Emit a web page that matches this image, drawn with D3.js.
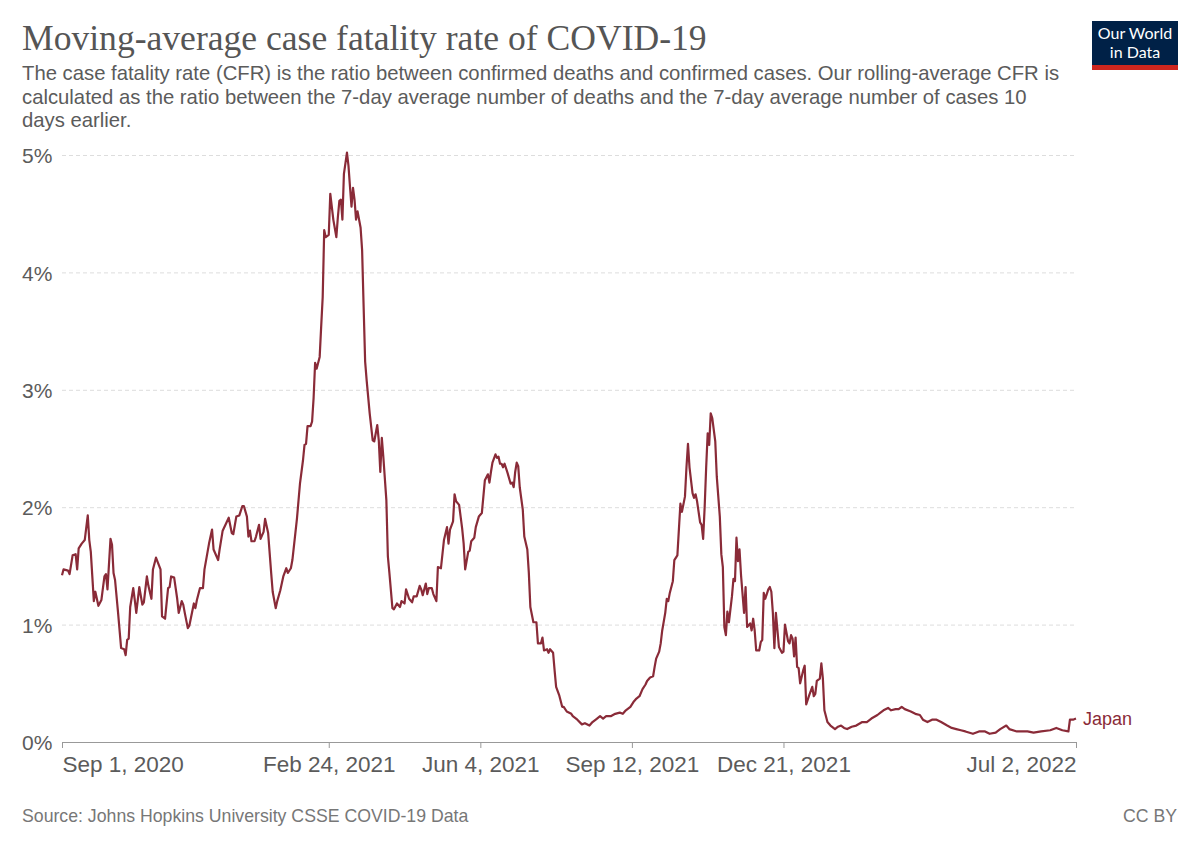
<!DOCTYPE html>
<html>
<head>
<meta charset="utf-8">
<script src="https://cdn.jsdelivr.net/npm/d3@7"></script>
<style>
  body { margin: 0; background: #fff; }
  svg { display: block; }
</style>
</head>
<body>
<svg id="chart" width="1200" height="847"></svg>
<script>
// Japan, rolling CFR (days after 1 Sep 2020, value in %)
const startDate = "2020-09-01";
const endDate = "2022-07-02";

const dayOffset = [
  0, 1, 4, 5, 7, 9, 10, 11, 13, 15, 17, 18, 19, 21, 22, 24, 26, 28, 29, 30,
  32, 33, 34, 35, 37, 39, 41, 42, 43, 44, 45, 47, 48, 49, 51, 53, 54, 56, 57, 59,
  60, 62, 65, 66, 68, 70, 71, 72, 74, 76, 77, 79, 80, 81, 83, 84, 87, 88, 89, 91,
  93, 94, 97, 99, 100, 103, 104, 106, 110, 112, 113, 115, 117, 119, 120, 122, 123, 124, 125, 127,
  128, 130, 131, 133, 134, 136, 138, 139, 141, 142, 144, 146, 148, 149, 151, 152, 155, 157, 159, 160,
  161, 162, 164, 165, 166, 167, 168, 170, 171, 172, 173, 174, 176, 177, 179, 181, 182, 183, 184, 185,
  186, 188, 189, 190, 191, 192, 193, 194, 195, 197, 198, 199, 200, 201, 203, 205, 206, 208, 209, 210,
  211, 212, 214, 215, 216, 218, 219, 221, 223, 224, 226, 227, 229, 231, 232, 234, 236, 237, 238, 240,
  241, 242, 244, 245, 247, 248, 250, 252, 254, 255, 256, 258, 259, 260, 262, 264, 265, 266, 268, 269,
  270, 272, 273, 275, 277, 278, 279, 281, 282, 283, 284, 286, 287, 288, 289, 290, 291, 292, 294, 296,
  297, 298, 299, 300, 301, 302, 304, 305, 307, 308, 309, 311, 313, 314, 316, 317, 318, 320, 321, 322,
  324, 325, 326, 328, 330, 331, 333, 336, 337, 340, 343, 345, 348, 350, 353, 355, 357, 359, 362, 365,
  368, 370, 372, 375, 377, 379, 381, 383, 385, 386, 388, 390, 391, 392, 394, 395, 396, 398, 399, 400,
  401, 403, 404, 406, 407, 408, 409, 411, 412, 413, 414, 416, 417, 418, 419, 421, 422, 423, 424, 425,
  426, 427, 428, 429, 431, 432, 434, 435, 436, 437, 438, 439, 440, 442, 443, 444, 445, 446, 447, 448,
  450, 451, 452, 454, 455, 456, 457, 458, 460, 461, 462, 463, 464, 466, 467, 468, 469, 470, 471, 473,
  475, 476, 477, 479, 480, 481, 482, 483, 484, 485, 486, 487, 489, 490, 491, 493, 495, 496, 497, 498,
  500, 501, 502, 503, 505, 507, 510, 512, 514, 516, 518, 521, 524, 528, 531, 534, 538, 540, 542, 545,
  547, 550, 552, 554, 556, 560, 563, 566, 568, 571, 574, 577, 580, 584, 587, 590, 593, 596, 601, 605,
  609, 612, 616, 619, 623, 625, 630, 637, 641, 646, 652, 656, 660, 664, 665, 667, 669
];

const cfrJapan = [
  1.42, 1.47, 1.46, 1.43, 1.59, 1.60, 1.47, 1.65, 1.69, 1.72, 1.93, 1.72, 1.62, 1.20, 1.28, 1.16, 1.21, 1.41, 1.43, 1.30,
  1.73, 1.68, 1.44, 1.38, 1.10, 0.80, 0.79, 0.74, 0.87, 0.88, 1.15, 1.31, 1.21, 1.10, 1.32, 1.17, 1.19, 1.41, 1.33, 1.22,
  1.47, 1.57, 1.47, 1.07, 1.05, 1.31, 1.32, 1.41, 1.40, 1.22, 1.10, 1.20, 1.17, 1.10, 0.97, 0.99, 1.18, 1.14, 1.21, 1.31,
  1.31, 1.47, 1.69, 1.81, 1.64, 1.55, 1.64, 1.80, 1.91, 1.78, 1.77, 1.92, 1.93, 2.01, 2.01, 1.92, 1.75, 1.80, 1.71, 1.71,
  1.75, 1.85, 1.73, 1.79, 1.90, 1.78, 1.44, 1.28, 1.14, 1.20, 1.29, 1.41, 1.48, 1.44, 1.48, 1.55, 1.90, 2.20, 2.40, 2.53,
  2.54, 2.69, 2.69, 2.73, 2.93, 3.23, 3.18, 3.28, 3.54, 3.79, 4.36, 4.30, 4.32, 4.67, 4.45, 4.30, 4.47, 4.61, 4.62, 4.45,
  4.84, 5.02, 4.91, 4.73, 4.56, 4.72, 4.62, 4.45, 4.52, 4.38, 4.19, 3.71, 3.24, 3.08, 2.80, 2.57, 2.56, 2.70, 2.57, 2.30,
  2.59, 2.43, 2.06, 1.58, 1.44, 1.14, 1.13, 1.18, 1.15, 1.20, 1.18, 1.30, 1.22, 1.19, 1.24, 1.24, 1.33, 1.30, 1.25, 1.35,
  1.26, 1.31, 1.31, 1.26, 1.20, 1.49, 1.48, 1.72, 1.83, 1.69, 1.81, 1.88, 2.11, 2.05, 2.02, 1.82, 1.69, 1.47, 1.62, 1.63,
  1.71, 1.74, 1.83, 1.92, 1.95, 2.09, 2.23, 2.28, 2.21, 2.30, 2.38, 2.45, 2.42, 2.43, 2.37, 2.37, 2.34, 2.37, 2.29, 2.20,
  2.21, 2.17, 2.30, 2.38, 2.35, 2.17, 1.98, 1.75, 1.64, 1.44, 1.15, 1.02, 1.02, 0.84, 0.84, 0.89, 0.78, 0.79, 0.76, 0.79,
  0.76, 0.61, 0.47, 0.40, 0.30, 0.30, 0.26, 0.24, 0.22, 0.19, 0.15, 0.16, 0.14, 0.17, 0.20, 0.22, 0.20, 0.22, 0.22, 0.24,
  0.25, 0.24, 0.27, 0.30, 0.34, 0.37, 0.39, 0.45, 0.49, 0.52, 0.55, 0.56, 0.64, 0.71, 0.77, 0.84, 0.95, 1.10, 1.22, 1.20,
  1.27, 1.37, 1.55, 1.59, 1.81, 2.03, 1.96, 2.09, 2.34, 2.54, 2.34, 2.12, 2.08, 2.11, 2.05, 1.87, 1.85, 1.73, 2.00, 2.34,
  2.63, 2.53, 2.80, 2.76, 2.56, 2.26, 1.92, 1.60, 1.49, 0.98, 0.91, 1.11, 1.02, 1.24, 1.39, 1.37, 1.74, 1.54, 1.64, 1.42,
  1.10, 1.32, 0.98, 1.01, 0.95, 1.05, 0.95, 0.78, 0.78, 0.85, 0.87, 1.27, 1.22, 1.30, 1.32, 1.28, 1.10, 0.80, 1.10, 0.81,
  0.76, 0.77, 1.00, 0.86, 0.84, 0.91, 0.88, 0.73, 0.89, 0.64, 0.63, 0.50, 0.61, 0.65, 0.32, 0.40, 0.47, 0.39, 0.41, 0.52,
  0.54, 0.67, 0.54, 0.27, 0.17, 0.14, 0.11, 0.13, 0.14, 0.12, 0.11, 0.13, 0.14, 0.17, 0.17, 0.20, 0.23, 0.25, 0.27, 0.29,
  0.27, 0.28, 0.28, 0.30, 0.28, 0.26, 0.24, 0.23, 0.19, 0.17, 0.19, 0.19, 0.17, 0.14, 0.12, 0.11, 0.10, 0.09, 0.07, 0.09,
  0.09, 0.07, 0.08, 0.11, 0.14, 0.11, 0.09, 0.09, 0.08, 0.09, 0.10, 0.12, 0.10, 0.09, 0.19, 0.19, 0.20
];

const xTickDates = ["2020-09-01", "2021-02-24", "2021-06-04", "2021-09-12", "2021-12-21", "2022-07-02"];
const yTicks = [0, 1, 2, 3, 4, 5];

const titleText = "Moving-average case fatality rate of COVID-19";
const subtitleLines = [
  "The case fatality rate (CFR) is the ratio between confirmed deaths and confirmed cases. Our rolling-average CFR is",
  "calculated as the ratio between the 7-day average number of deaths and the 7-day average number of cases 10",
  "days earlier."
];
const sourceText = "Source: Johns Hopkins University CSSE COVID-19 Data";
const seriesName = "Japan";

const lineColor = "#8a2b38";
const parseDay = d3.utcParse("%Y-%m-%d");
const start = parseDay(startDate);

const data = dayOffset.map((d, i) => ({ date: d3.utcDay.offset(start, d), value: cfrJapan[i] }));

const svg = d3.select("#chart");
const plotLeft = 62, plotRight = 1076, plotTop = 155, plotBottom = 742;

const x = d3.scaleUtc().domain([start, parseDay(endDate)]).range([plotLeft, plotRight]);
const y = d3.scaleLinear().domain([0, 5]).range([plotBottom, plotTop]);

// header
svg.append("text")
  .attr("x", 22).attr("y", 50)
  .attr("font-family", "Liberation Serif, Times New Roman, serif")
  .attr("font-size", 35.6).attr("fill", "#555")
  .text(titleText);

svg.append("g").selectAll("text")
  .data(subtitleLines).join("text")
  .attr("x", 22).attr("y", (d, i) => 80 + i * 23.5)
  .attr("font-family", "Liberation Sans, Arial, sans-serif")
  .attr("font-size", 20.3).attr("fill", "#5b5b5b")
  .text(d => d);

// logo
const logo = svg.append("g");
logo.append("rect").attr("x", 1092).attr("y", 21).attr("width", 86).attr("height", 49).attr("fill", "#002147");
logo.append("rect").attr("x", 1092).attr("y", 65).attr("width", 86).attr("height", 5).attr("fill", "#ce261e");
logo.selectAll("text.logo")
  .data(["Our World", "in Data"]).join("text")
  .attr("class", "logo")
  .attr("x", 1135).attr("y", (d, i) => 39 + i * 19)
  .attr("text-anchor", "middle")
  .attr("font-family", "Lato, sans-serif")
  .attr("font-size", 16).attr("fill", "#fff")
  .text(d => d);

// y grid + labels
const yAxis = svg.append("g")
  .attr("transform", `translate(${plotLeft},0)`)
  .call(d3.axisLeft(y).tickValues(yTicks).tickSize(-(plotRight - plotLeft)).tickFormat(d => d + "%"));
yAxis.select(".domain").remove();
yAxis.selectAll(".tick line")
  .attr("stroke", "#ddd")
  .attr("stroke-dasharray", "4,3")
  .filter(d => d === 0).remove();
yAxis.selectAll(".tick text")
  .attr("x", 22 - plotLeft).attr("dy", "0.37em")
  .attr("text-anchor", "start")
  .attr("font-family", "Liberation Sans, Arial, sans-serif")
  .attr("font-size", 21).attr("fill", "#5b5b5b");

// x axis
const xTicks = xTickDates.map(parseDay);
const xAxis = svg.append("g")
  .attr("transform", `translate(0,${plotBottom})`)
  .call(d3.axisBottom(x).tickValues(xTicks).tickSize(6).tickSizeOuter(0).tickFormat(d3.utcFormat("%b %-d, %Y")));
xAxis.select(".domain").attr("stroke", "#999");
xAxis.selectAll(".tick line").attr("stroke", "#999");
xAxis.selectAll(".tick text")
  .attr("y", 9).attr("dy", "0.95em")
  .attr("font-family", "Liberation Sans, Arial, sans-serif")
  .attr("font-size", 22.5).attr("fill", "#5b5b5b")
  .attr("text-anchor", (d, i) => i === 0 ? "start" : i === xTicks.length - 1 ? "end" : "middle");

// series
const line = d3.line().x(d => x(d.date)).y(d => y(d.value));
svg.append("path")
  .datum(data)
  .attr("d", line)
  .attr("fill", "none")
  .attr("stroke", lineColor)
  .attr("stroke-width", 2.2)
  .attr("stroke-linejoin", "round");

const last = data[data.length - 1];
svg.append("text")
  .attr("x", x(last.date) + 7).attr("y", y(last.value))
  .attr("dy", "0.35em")
  .attr("font-family", "Liberation Sans, Arial, sans-serif")
  .attr("font-size", 18).attr("fill", lineColor)
  .text(seriesName);

// footer
svg.append("text")
  .attr("x", 22).attr("y", 822)
  .attr("font-family", "Liberation Sans, Arial, sans-serif")
  .attr("font-size", 17.7).attr("fill", "#777")
  .text(sourceText);
svg.append("text")
  .attr("x", 1177).attr("y", 822)
  .attr("text-anchor", "end")
  .attr("font-family", "Liberation Sans, Arial, sans-serif")
  .attr("font-size", 17.7).attr("fill", "#777")
  .text("CC BY");
</script>
</body>
</html>
